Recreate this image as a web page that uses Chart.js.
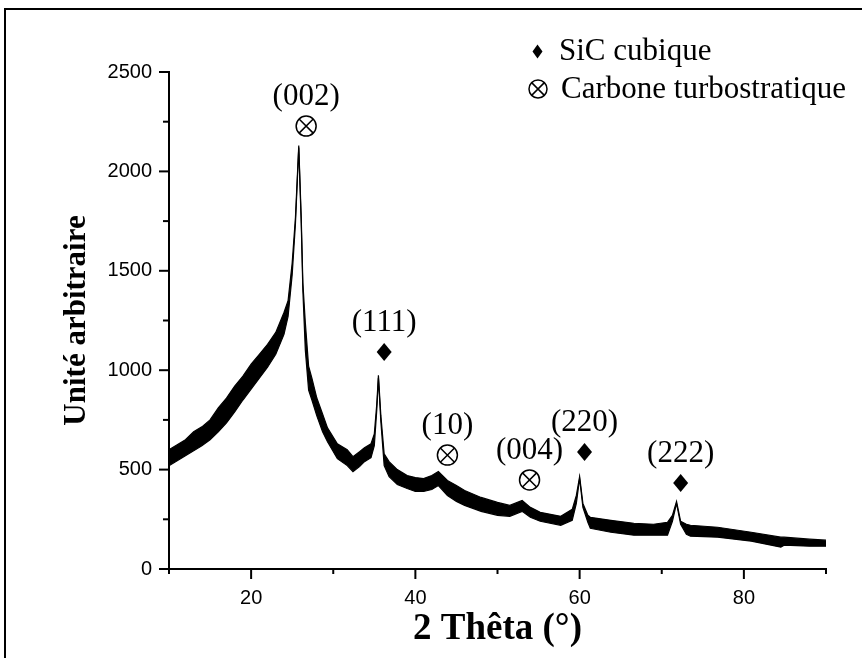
<!DOCTYPE html>
<html>
<head>
<meta charset="utf-8">
<script src="https://cdn.jsdelivr.net/npm/chart.js@4/dist/chart.umd.min.js"></script>
<style>
  html, body { margin: 0; padding: 0; background: #fff; }
  #wrap { position: relative; width: 862px; height: 658px; overflow: hidden; }
  #frame { position: absolute; left: 4px; top: 8px; right: -10px; bottom: -10px;
           border-left: 2px solid #000; border-top: 2px solid #000; }
  canvas { position: absolute; left: 0; top: 0; }
</style>
</head>
<body>
<div id="wrap">
  <div id="frame"></div>
  <canvas id="chart" width="862" height="658"></canvas>
</div>
<script>
// diffractogram: 2θ with lower / upper edge of the noisy trace
const theta = [10, 11, 12, 13, 14, 15, 16, 17, 18, 19, 20, 21, 22, 23, 24, 24.5, 25, 25.4, 25.8,
  26.1, 26.3, 26.6, 27.0, 27.4, 28.0, 28.7, 29.3, 30.5, 31.7, 32.4, 33.2, 33.8, 34.6, 35.0, 35.3,
  35.5, 35.8, 36.2, 36.8, 37.8, 39.0, 40.0, 41.0, 42.0, 42.8, 43.9, 45.0, 46.0, 48.0, 50.0, 51.5,
  53.0, 54.0, 55.2, 57.7, 59.1, 59.6, 60.0, 60.4, 61.0, 61.3, 63.8, 66.6, 69.0, 70.7, 71.3, 71.8,
  72.3, 73.0, 73.5, 76.8, 80.9, 84.5, 84.9, 88.0, 90.0];
const upperI = [600, 625, 650, 690, 715, 750, 810, 860, 920, 970, 1030, 1080, 1130, 1190, 1290, 1350, 1540, 1770, 2130,
  1770, 1440, 1240, 1020, 960, 860, 780, 710, 630, 600, 565, 590, 610, 630, 680, 830,
  975, 770, 580, 540, 500, 470, 460, 455, 470, 490, 445, 420, 395, 360, 335, 320,
  345, 310, 285, 265, 300, 370, 465, 330, 270, 260, 245, 230, 225, 235, 270, 340,
  240, 225, 220, 210, 185, 160, 160, 150, 145];
const lowerI = [520, 545, 570, 595, 620, 650, 690, 735, 790, 850, 905, 960, 1015, 1080, 1180, 1270, 1480, 1740, 2120,
  1740, 1400, 1100, 900, 850, 770, 690, 640, 555, 520, 490, 515, 540, 560, 620, 800,
  960, 740, 520, 465, 425, 405, 390, 390, 400, 420, 370, 340, 320, 290, 270, 265,
  290, 260, 240, 220, 245, 330, 455, 310, 235, 205, 185, 170, 170, 170, 240, 330,
  225, 175, 165, 160, 140, 110, 120, 115, 115];

// peak markers: Miller indices, phase, and where the symbol sits (2θ, intensity)
const markHkl = ["(002)", "(111)", "(10)", "(004)", "(220)", "(222)"];
const markPhase = ["C", "SiC", "C", "C", "SiC", "SiC"];
const markTheta = [26.7, 36.2, 43.9, 53.9, 60.6, 72.3];
const markI = [2228, 1092, 573, 448, 588, 433];

const legendText = ["SiC cubique", "Carbone turbostratique"];

const serif = '"Liberation Serif", "Times New Roman", serif';
const sans = '"Liberation Sans", Arial, sans-serif';

function diamond(ctx, x, y, w, h) {
  ctx.beginPath();
  ctx.moveTo(x, y - h);
  ctx.lineTo(x + w, y);
  ctx.lineTo(x, y + h);
  ctx.lineTo(x - w, y);
  ctx.closePath();
  ctx.fill();
}
function otimes(ctx, x, y, r) {
  ctx.beginPath();
  ctx.arc(x, y, r, 0, Math.PI * 2);
  ctx.stroke();
  const d = r * Math.SQRT1_2;
  ctx.beginPath();
  ctx.moveTo(x - d, y - d); ctx.lineTo(x + d, y + d);
  ctx.moveTo(x + d, y - d); ctx.lineTo(x - d, y + d);
  ctx.stroke();
}

const extras = {
  id: "extras",
  afterDraw(chart) {
    const { ctx, scales: { x, y } } = chart;
    ctx.save();
    ctx.fillStyle = "#000";
    ctx.strokeStyle = "#000";

    // tick marks: long at labelled values, short in between
    ctx.lineWidth = 2;
    x.ticks.forEach((t) => {
      const px = x.getPixelForValue(t.value);
      const len = t.value % 20 === 0 ? 10 : 5;
      ctx.beginPath(); ctx.moveTo(px, y.bottom); ctx.lineTo(px, y.bottom + len); ctx.stroke();
    });
    y.ticks.forEach((t) => {
      const py = y.getPixelForValue(t.value);
      const len = t.value % 500 === 0 ? 10 : 6;
      ctx.beginPath(); ctx.moveTo(x.left, py); ctx.lineTo(x.left - len, py); ctx.stroke();
    });

    // peak annotations
    ctx.font = "31px " + serif;
    ctx.textBaseline = "middle";
    ctx.textAlign = "center";
    ctx.lineWidth = 1.5;
    markHkl.forEach((lab, i) => {
      const px = x.getPixelForValue(markTheta[i]);
      const py = y.getPixelForValue(markI[i]);
      if (markPhase[i] === "SiC") diamond(ctx, px, py, 7.5, 9);
      else otimes(ctx, px, py, 10);
      ctx.fillText(lab, px, py - 29);
    });

    // legend
    diamond(ctx, 537.5, 51.5, 5, 7);
    otimes(ctx, 538, 89, 9);
    ctx.textBaseline = "alphabetic";
    ctx.textAlign = "left";
    ctx.fillText(legendText[0], 559, 60);
    ctx.fillText(legendText[1], 561, 98);
    ctx.restore();
  }
};

new Chart(document.getElementById("chart"), {
  type: "line",
  data: {
    labels: theta,
    datasets: [
      { data: upperI, borderColor: "#000", backgroundColor: "#000", borderWidth: 1.2,
        pointRadius: 0, tension: 0, fill: "+1" },
      { data: lowerI, borderColor: "#000", backgroundColor: "#000", borderWidth: 1.2,
        pointRadius: 0, tension: 0, fill: false }
    ]
  },
  options: {
    responsive: false,
    animation: false,
    layout: { padding: { left: 0, top: 72, right: 36, bottom: 0 } },
    plugins: { legend: { display: false }, tooltip: { enabled: false } },
    scales: {
      x: {
        type: "linear", min: 10, max: 90,
        afterFit: (s) => { s.height = 89; },
        ticks: {
          stepSize: 10, color: "#000", padding: 7,
          font: { family: sans, size: 20 },
          maxRotation: 0,
          callback: (v) => (v % 20 === 0 ? v : "")
        },
        grid: { display: true, drawOnChartArea: false, drawTicks: true, tickLength: 10, tickColor: "rgba(0,0,0,0)" },
        border: { display: true, color: "#000", width: 2 },
        title: { display: true, text: "2 Thêta (°)", color: "#000",
                 font: { family: serif, size: 37, weight: "bold" }, padding: { top: 0, bottom: 6 } }
      },
      y: {
        min: 0, max: 2500,
        afterFit: (s) => { s.width = 169; },
        ticks: {
          stepSize: 250, color: "#000", padding: 7,
          font: { family: sans, size: 20 },
          callback: (v) => (v % 500 === 0 ? v : "")
        },
        grid: { display: true, drawOnChartArea: false, drawTicks: true, tickLength: 10, tickColor: "rgba(0,0,0,0)" },
        border: { display: true, color: "#000", width: 2 },
        title: { display: true, text: "Unité arbitraire", color: "#000",
                 font: { family: serif, size: 31, weight: "bold" }, padding: { top: 58, bottom: 0 } }
      }
    }
  },
  plugins: [extras]
});
</script>
</body>
</html>
